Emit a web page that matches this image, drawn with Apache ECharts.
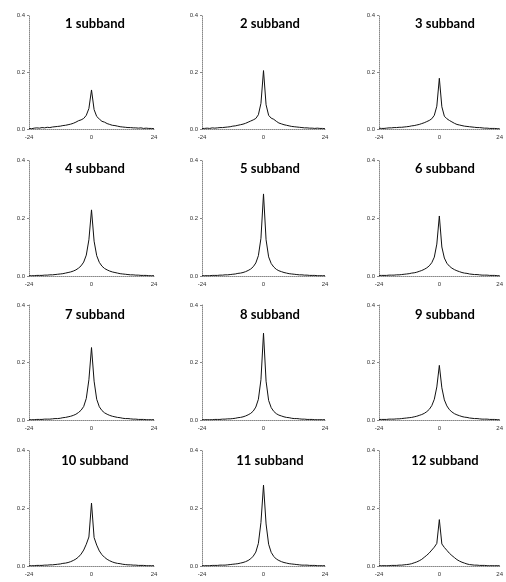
<!DOCTYPE html>
<html>
<head>
<meta charset="utf-8">
<script src="https://cdn.jsdelivr.net/npm/echarts@6/dist/echarts.min.js"></script>
<style>
  html, body { margin: 0; padding: 0; background: #fff; }
  #chart { width: 506px; height: 582px; }
</style>
</head>
<body>
<div id="chart"></div>
<script>
// x positions -24..24
var xValues = [-24, -23, -22, -21, -20, -19, -18, -17, -16, -15, -14, -13, -12, -11, -10, -9, -8, -7, -6, -5, -4, -3, -2, -1,
    0, 1, 2, 3, 4, 5, 6, 7, 8, 9, 10, 11, 12, 13, 14, 15, 16, 17, 18, 19, 20, 21, 22, 23, 24];
var xTicks = [-24, 0, 24];
var yTicks = [0.0, 0.2, 0.4];
var titles = ['1 subband', '2 subband', '3 subband', '4 subband', '5 subband', '6 subband',
    '7 subband', '8 subband', '9 subband', '10 subband', '11 subband', '12 subband'];

var sub1 = [0.002, 0.001, 0.003, 0.004, 0.003, 0.005, 0.004, 0.006, 0.005, 0.007, 0.008, 0.009, 0.010, 0.012, 0.013, 0.015, 0.017, 0.020, 0.024, 0.029, 0.032, 0.037, 0.048, 0.072,
    0.137, 0.068, 0.044, 0.035, 0.027, 0.024, 0.019, 0.016, 0.013, 0.012, 0.010, 0.008, 0.007, 0.006, 0.005, 0.005, 0.004, 0.004, 0.003, 0.004, 0.002, 0.003, 0.002, 0.002, 0.001];
var sub2 = [0.002, 0.002, 0.003, 0.002, 0.004, 0.003, 0.004, 0.005, 0.005, 0.006, 0.007, 0.008, 0.010, 0.011, 0.013, 0.015, 0.017, 0.020, 0.024, 0.028, 0.032, 0.037, 0.050, 0.090,
    0.205, 0.085, 0.048, 0.038, 0.034, 0.027, 0.021, 0.018, 0.015, 0.013, 0.011, 0.009, 0.008, 0.007, 0.006, 0.005, 0.004, 0.004, 0.003, 0.003, 0.002, 0.003, 0.002, 0.002, 0.001];
var sub3 = [0.003, 0.002, 0.002, 0.003, 0.004, 0.004, 0.005, 0.005, 0.006, 0.006, 0.007, 0.008, 0.009, 0.011, 0.012, 0.014, 0.016, 0.019, 0.022, 0.026, 0.030, 0.036, 0.048, 0.080,
    0.178, 0.078, 0.045, 0.036, 0.030, 0.025, 0.020, 0.016, 0.014, 0.012, 0.010, 0.009, 0.008, 0.007, 0.006, 0.005, 0.005, 0.004, 0.003, 0.003, 0.002, 0.002, 0.002, 0.001, 0.001];
var sub4 = [0.001, 0.001, 0.001, 0.002, 0.002, 0.002, 0.003, 0.003, 0.004, 0.004, 0.005, 0.006, 0.007, 0.008, 0.010, 0.012, 0.014, 0.017, 0.021, 0.027, 0.035, 0.048, 0.072, 0.125,
    0.228, 0.120, 0.070, 0.047, 0.034, 0.026, 0.021, 0.017, 0.014, 0.012, 0.010, 0.008, 0.007, 0.006, 0.005, 0.004, 0.004, 0.003, 0.003, 0.002, 0.002, 0.002, 0.001, 0.001, 0.001];
var sub5 = [0.001, 0.001, 0.001, 0.001, 0.002, 0.002, 0.002, 0.003, 0.003, 0.004, 0.004, 0.005, 0.006, 0.007, 0.009, 0.010, 0.012, 0.015, 0.019, 0.024, 0.032, 0.045, 0.070, 0.130,
    0.283, 0.125, 0.066, 0.043, 0.031, 0.023, 0.018, 0.015, 0.012, 0.010, 0.008, 0.007, 0.006, 0.005, 0.004, 0.004, 0.003, 0.003, 0.002, 0.002, 0.002, 0.001, 0.001, 0.001, 0.001];
var sub6 = [0.002, 0.002, 0.002, 0.002, 0.003, 0.003, 0.003, 0.004, 0.004, 0.005, 0.006, 0.007, 0.008, 0.010, 0.011, 0.013, 0.016, 0.019, 0.023, 0.028, 0.035, 0.046, 0.065, 0.110,
    0.207, 0.100, 0.062, 0.044, 0.034, 0.027, 0.022, 0.018, 0.015, 0.012, 0.010, 0.009, 0.007, 0.006, 0.005, 0.005, 0.004, 0.003, 0.003, 0.003, 0.002, 0.002, 0.002, 0.001, 0.001];
var sub7 = [0.001, 0.001, 0.001, 0.002, 0.002, 0.002, 0.003, 0.003, 0.003, 0.004, 0.005, 0.005, 0.006, 0.008, 0.009, 0.011, 0.013, 0.016, 0.020, 0.026, 0.034, 0.047, 0.075, 0.140,
    0.252, 0.135, 0.072, 0.046, 0.033, 0.025, 0.020, 0.016, 0.013, 0.011, 0.009, 0.008, 0.006, 0.005, 0.005, 0.004, 0.003, 0.003, 0.002, 0.002, 0.002, 0.001, 0.001, 0.001, 0.001];
var sub8 = [0.001, 0.001, 0.001, 0.001, 0.001, 0.002, 0.002, 0.002, 0.003, 0.003, 0.004, 0.004, 0.005, 0.006, 0.008, 0.009, 0.011, 0.014, 0.018, 0.023, 0.031, 0.045, 0.072, 0.140,
    0.302, 0.135, 0.068, 0.043, 0.030, 0.022, 0.017, 0.014, 0.011, 0.009, 0.008, 0.006, 0.005, 0.005, 0.004, 0.003, 0.003, 0.002, 0.002, 0.002, 0.001, 0.001, 0.001, 0.001, 0.001];
var sub9 = [0.002, 0.002, 0.002, 0.002, 0.003, 0.003, 0.003, 0.004, 0.004, 0.005, 0.006, 0.007, 0.008, 0.009, 0.011, 0.013, 0.016, 0.019, 0.023, 0.029, 0.037, 0.050, 0.072, 0.115,
    0.190, 0.112, 0.070, 0.049, 0.036, 0.028, 0.022, 0.018, 0.015, 0.012, 0.010, 0.009, 0.007, 0.006, 0.005, 0.005, 0.004, 0.003, 0.003, 0.003, 0.002, 0.002, 0.002, 0.001, 0.001];
var sub10 = [0.001, 0.001, 0.001, 0.002, 0.002, 0.002, 0.003, 0.003, 0.004, 0.004, 0.005, 0.006, 0.007, 0.009, 0.010, 0.012, 0.015, 0.019, 0.024, 0.031, 0.041, 0.055, 0.075, 0.100,
    0.217, 0.098, 0.072, 0.052, 0.039, 0.030, 0.023, 0.018, 0.014, 0.011, 0.009, 0.008, 0.006, 0.005, 0.004, 0.004, 0.003, 0.003, 0.002, 0.002, 0.002, 0.001, 0.001, 0.001, 0.001];
var sub11 = [0.001, 0.001, 0.001, 0.001, 0.002, 0.002, 0.002, 0.003, 0.003, 0.003, 0.004, 0.005, 0.006, 0.007, 0.008, 0.010, 0.012, 0.015, 0.019, 0.025, 0.034, 0.048, 0.078, 0.150,
    0.279, 0.145, 0.075, 0.047, 0.033, 0.024, 0.019, 0.015, 0.012, 0.010, 0.008, 0.007, 0.006, 0.005, 0.004, 0.003, 0.003, 0.003, 0.002, 0.002, 0.002, 0.001, 0.001, 0.001, 0.001];
var sub12 = [0.001, 0.001, 0.001, 0.001, 0.001, 0.002, 0.002, 0.002, 0.003, 0.003, 0.004, 0.005, 0.006, 0.008, 0.011, 0.014, 0.018, 0.023, 0.030, 0.037, 0.045, 0.055, 0.065, 0.078,
    0.160, 0.076, 0.064, 0.054, 0.044, 0.036, 0.029, 0.022, 0.017, 0.013, 0.010, 0.007, 0.005, 0.004, 0.003, 0.003, 0.002, 0.002, 0.002, 0.001, 0.001, 0.001, 0.001, 0.001, 0.001];

var allSeries = [sub1, sub2, sub3, sub4, sub5, sub6, sub7, sub8, sub9, sub10, sub11, sub12];

// panel layout (pixels)
var colLeft = [29, 202, 379];
var colWidth = [125, 123, 124];
var rowTop = [15, 160, 305, 450];
var rowHeight = [114, 116, 115, 116];
var titleX = [95, 270, 445];
var titleY = [25, 170, 316, 462];

var chart = echarts.init(document.getElementById('chart'));

var grids = [], xAxes = [], yAxes = [], series = [], titleList = [];

for (var i = 0; i < 12; i++) {
    var r = Math.floor(i / 3), c = i % 3;
    grids.push({
        left: colLeft[c],
        top: rowTop[r],
        width: colWidth[c],
        height: rowHeight[r]
    });
    xAxes.push({
        type: 'value',
        gridIndex: i,
        min: xTicks[0],
        max: xTicks[2],
        interval: 24,
        splitLine: { show: false },
        axisTick: { show: false },
        axisLine: {
            onZero: false,
            lineStyle: { color: '#888', type: 'dotted', width: 1 }
        },
        axisLabel: {
            fontSize: 6,
            color: '#333',
            margin: 5,
            fontFamily: 'Liberation Sans'
        }
    });
    yAxes.push({
        type: 'value',
        gridIndex: i,
        min: yTicks[0],
        max: yTicks[2],
        interval: 0.2,
        splitLine: { show: false },
        axisTick: { show: true, length: 2, lineStyle: { color: '#888' } },
        axisLine: {
            show: true,
            onZero: false,
            lineStyle: { color: '#888', type: 'dotted', width: 1 }
        },
        axisLabel: {
            fontSize: 6,
            color: '#333',
            margin: 4,
            fontFamily: 'Liberation Sans',
            formatter: function (v) { return v.toFixed(1); }
        }
    });
    var pts = [];
    for (var k = 0; k < xValues.length; k++) {
        pts.push([xValues[k], allSeries[i][k]]);
    }
    series.push({
        name: titles[i],
        type: 'line',
        xAxisIndex: i,
        yAxisIndex: i,
        data: pts,
        showSymbol: false,
        symbol: 'none',
        lineStyle: { color: '#111', width: 1 },
        animation: false
    });
    titleList.push({
        text: titles[i],
        left: titleX[c],
        top: titleY[r] - 8,
        textAlign: 'center',
        padding: 0,
        textStyle: {
            fontFamily: 'Lato',
            fontWeight: 'bold',
            fontSize: 13,
            color: '#000'
        }
    });
}

chart.setOption({
    animation: false,
    title: titleList,
    grid: grids,
    xAxis: xAxes,
    yAxis: yAxes,
    series: series
});
</script>
</body>
</html>
